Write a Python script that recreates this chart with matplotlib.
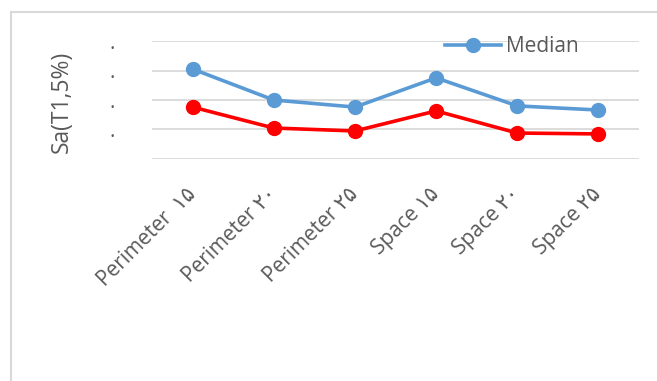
import matplotlib
matplotlib.use("Agg")
import matplotlib.pyplot as plt
from matplotlib.patches import Rectangle

plt.rcParams['font.family'] = ['Open Sans', 'DejaVu Sans']

categories = ["Perimeter  \u06f1\u06f5", "Perimeter \u06f2\u06f0", "Perimeter \u06f2\u06f5",
              "Space \u06f1\u06f5", "Space \u06f2\u06f0", "Space \u06f2\u06f5"]
median = [3.05, 2.0, 1.76, 2.75, 1.8, 1.66]
lower = [1.76, 1.05, 0.95, 1.63, 0.88, 0.85]
yticks = [0, 1, 2, 3, 4]
ytick_labels = ["", ".", ".", ".", "."]

W, H = 657, 381
fig = plt.figure(figsize=(W / 100, H / 100), dpi=100)
ax = fig.add_axes([152 / W, 1 - 159 / H, (639 - 152) / W, (159 - 41) / H])

grey = "#595959"
x = list(range(len(categories)))
ax.plot(x, median, color="#5B9BD5", lw=2.6, marker="o", ms=10, label="Median", zorder=3)
ax.plot(x, lower, color="#FF0000", lw=2.6, marker="o", ms=10, zorder=3)

ax.set_xlim(-0.5, len(categories) - 0.5)
ax.set_ylim(0, 4)
ax.set_yticks(yticks)
ax.set_yticklabels(ytick_labels, fontsize=15, color=grey)
ax.set_xticks(x)
ax.set_xticklabels(categories, rotation=45, ha="right", va="center",
                   rotation_mode="anchor", fontsize=15, color=grey)
ax.tick_params(axis="x", length=0, pad=23)
ax.tick_params(axis="y", length=0, pad=27)
ax.grid(axis="y", color="#d9d9d9", lw=1.3)
ax.set_axisbelow(True)
for s in ax.spines.values():
    s.set_visible(False)

fig.text(62 / W, 1 - 102 / H, "Sa(T1,5%)", rotation=90, ha="center", va="center",
         fontsize=16.5, color=grey)

ax.legend(loc="center left", bbox_to_anchor=(445 / W, 1 - 47 / H),
          bbox_transform=fig.transFigure, frameon=False, fontsize=15,
          handlelength=2.7, handletextpad=0.25, borderpad=0, borderaxespad=0,
          labelcolor=grey)

# outer chart frame
fig.patches.append(Rectangle((11 / W, -0.1), 1.2, 1 - 12 / H + 0.1,
                             transform=fig.transFigure, fill=False,
                             edgecolor="#d9d9d9", lw=1.5))

fig.savefig("out.png", dpi=100)
